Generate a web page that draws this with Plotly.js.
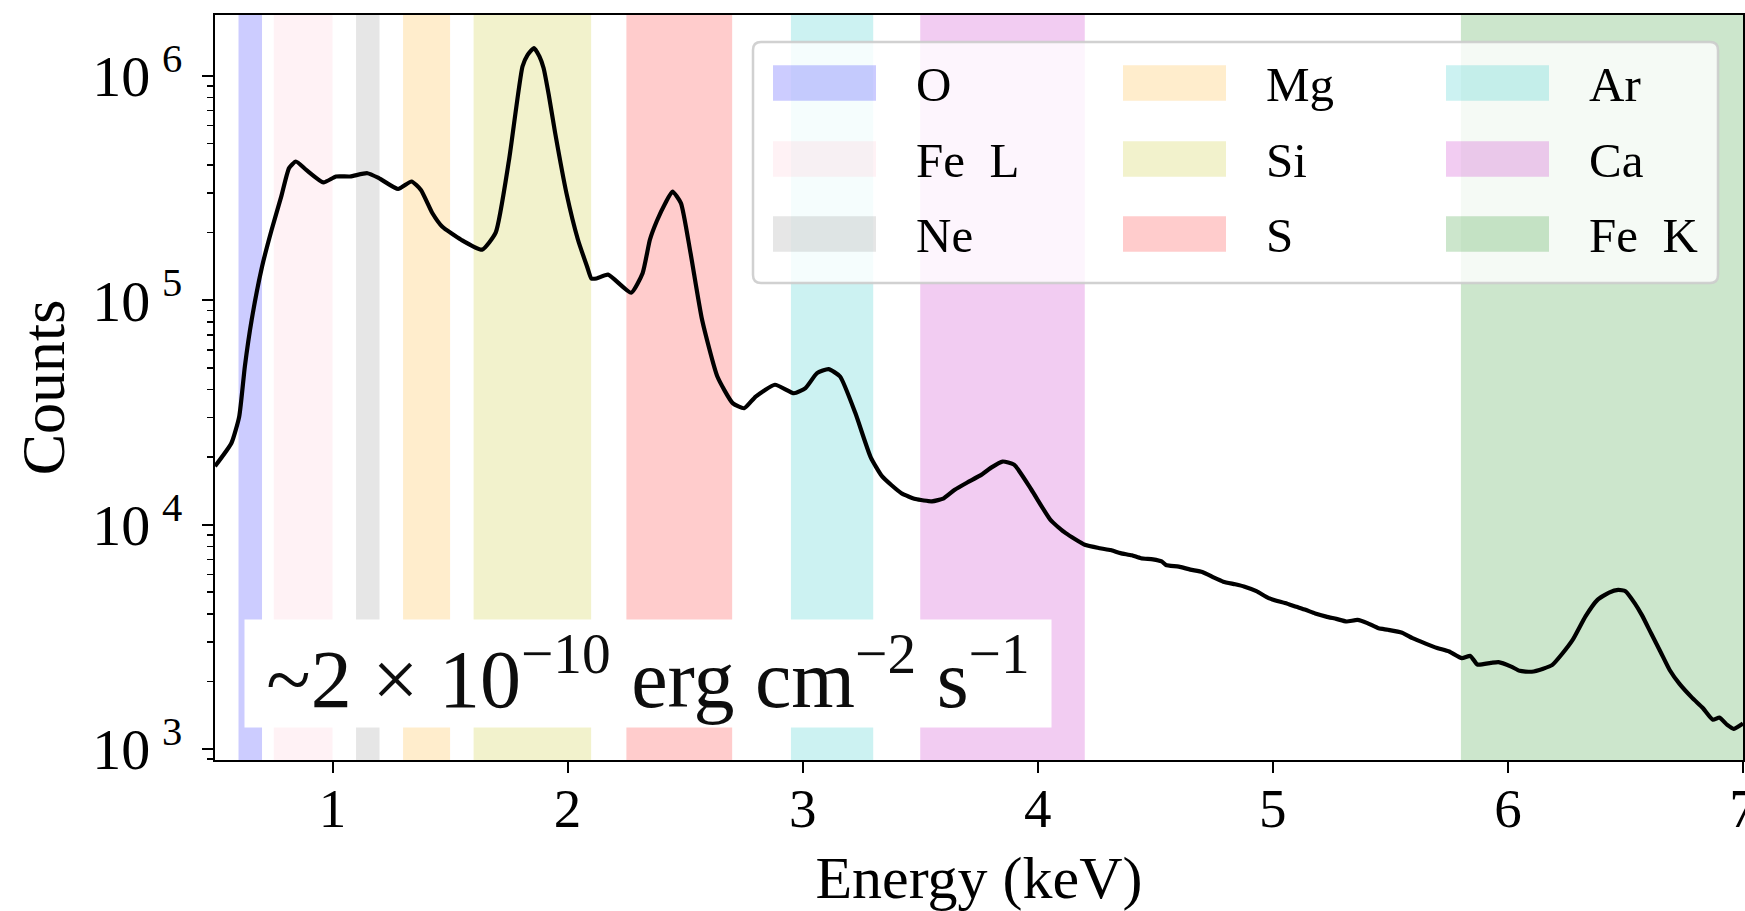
<!DOCTYPE html>
<html>
<head>
<meta charset="utf-8">
<script src="https://cdn.plot.ly/plotly-3.0.1.min.js"></script>
<style>
html, body { margin: 0; padding: 0; background: #ffffff; }
#chart { width: 1745px; height: 911px; }
</style>
</head>
<body>
<div id="chart"></div>
<script>
// ---------------- DATA ----------------
const energy = [
  0.50, 0.57, 0.603, 0.627, 0.656, 0.70, 0.741, 0.782, 0.815, 0.844,
  0.888, 0.961, 1.015, 1.075, 1.148, 1.197, 1.279, 1.336, 1.376, 1.425,
  1.466, 1.547, 1.636, 1.694, 1.751, 1.808, 1.83, 1.857, 1.88, 1.898,
  1.92, 1.947, 1.995,
  2.044, 2.083, 2.101, 2.123, 2.172, 2.27, 2.319, 2.35, 2.38, 2.415,
  2.446, 2.482, 2.523, 2.572, 2.637, 2.702, 2.751, 2.80, 2.882, 2.963,
  3.012, 3.061, 3.11, 3.159, 3.224, 3.289, 3.338, 3.42, 3.48, 3.55,
  3.60, 3.647, 3.70, 3.761, 3.80, 3.85, 3.899, 3.973, 4.054, 4.119,
  4.20, 4.264, 4.31, 4.352, 4.40, 4.439, 4.49, 4.527, 4.545, 4.60,
  4.649, 4.70, 4.75, 4.789, 4.84, 4.877, 4.93, 4.982, 5.052, 5.10,
  5.139, 5.18, 5.227, 5.27, 5.314, 5.36, 5.402, 5.45, 5.489, 5.55,
  5.594, 5.65, 5.699, 5.75, 5.804, 5.84, 5.87, 5.927, 5.96, 6.014,
  6.05, 6.101, 6.15, 6.189, 6.23, 6.276, 6.33, 6.381, 6.43, 6.469,
  6.50, 6.539, 6.57, 6.609, 6.65, 6.688, 6.73, 6.784, 6.83, 6.872,
  6.90, 6.933, 6.96, 7.00
];
const counts = [
  18200, 23100, 30300, 50700, 81800, 141000, 206000, 290000, 388000, 415000,
  381000, 335000, 356000, 356000, 368000, 350000, 313000, 338000, 310000, 244000,
  213000, 186000, 168000, 200000, 423000, 1100000, 1240000, 1330000, 1220000, 1080000,
  820000, 556000, 300000,
  186000, 141000, 125000, 125000, 130000, 108000, 132000, 186000, 226000, 270000,
  305000, 271000, 162000, 81800, 45700, 34800, 33000, 37200, 42000, 38500,
  40600, 47300, 49300, 45700, 31400, 20000, 16400, 13800, 13000, 12700,
  13100, 14300, 15400, 16700, 17900, 19100, 18500, 14300, 10500, 9160,
  8130, 7850, 7700, 7460, 7300, 7080, 7000, 6850, 6610, 6500,
  6300, 6150, 5800, 5570, 5420, 5300, 5050, 4700, 4470, 4300,
  4170, 4020, 3890, 3800, 3700, 3760, 3640, 3450, 3400, 3300,
  3120, 2950, 2820, 2720, 2540, 2600, 2380, 2420, 2440, 2330,
  2230, 2210, 2280, 2370, 2650, 3070, 3900, 4620, 4980, 5120,
  5050, 4470, 3950, 3280, 2700, 2250, 1950, 1690, 1520, 1350,
  1380, 1280, 1230, 1300
];

const bandNames  = ['O', 'Fe\u00a0\u00a0L', 'Ne', 'Mg', 'Si', 'S', 'Ar', 'Ca', 'Fe\u00a0\u00a0K'];
const bandStart  = [0.60, 0.75, 1.10, 1.30, 1.60, 2.25, 2.95, 3.50, 5.80];
const bandEnd    = [0.70, 1.00, 1.20, 1.50, 2.10, 2.70, 3.30, 4.20, 7.00];
const bandColors = [
  'rgba(0,0,255,0.2)', 'rgba(255,192,203,0.2)', 'rgba(128,128,128,0.2)',
  'rgba(255,165,0,0.2)', 'rgba(191,191,0,0.2)', 'rgba(255,0,0,0.2)',
  'rgba(0,191,191,0.2)', 'rgba(191,0,191,0.2)', 'rgba(0,128,0,0.2)'
];

const xTickVals = [1, 2, 3, 4, 5, 6, 7];
const xTickText = ['1', '2', '3', '4', '5', '6', '7'];
const yTickVals = [1e3, 1e4, 1e5, 1e6];
const yTickText = ['10\u2009<sup>3</sup>', '10\u2009<sup>4</sup>', '10\u2009<sup>5</sup>', '10\u2009<sup>6</sup>'];

const xTitle = 'Energy (keV)';
const yTitle = 'Counts';
const fluxText = '~2 \u00d7 10<sup>\u221210</sup> erg cm<sup>\u22122</sup> s<sup>\u22121</sup>';

// ---------------- LAYOUT GEOMETRY ----------------
const W = 1745, H = 911;
const M = { l: 215, r: 2, t: 15, b: 151 };
const PW = W - M.l - M.r, PH = H - M.t - M.b;
const px2x = px => (px - M.l) / PW;          // page px -> paper x
const py2y = py => (H - M.b - py) / PH;      // page px -> paper y

const FONT = 'Liberation Serif, Times New Roman, serif';

// band shapes
const shapes = [];
for (let i = 0; i < bandNames.length; i++) {
  shapes.push({
    type: 'rect', xref: 'x', yref: 'paper',
    x0: bandStart[i], x1: bandEnd[i], y0: 0, y1: 1,
    fillcolor: bandColors[i], line: { width: 0 }, layer: 'below'
  });
}

// custom legend (matplotlib-style, 3 columns)
const leg = { left: 753, top: 42, right: 1718, bottom: 283, r: 8 };
const hw = (leg.right - leg.left) / 2, hh = (leg.bottom - leg.top) / 2, rr = leg.r;
shapes.push({
  type: 'path', xref: 'paper', yref: 'paper',
  xsizemode: 'pixel', ysizemode: 'pixel',
  xanchor: px2x((leg.left + leg.right) / 2), yanchor: py2y((leg.top + leg.bottom) / 2),
  path: `M${-hw + rr},${-hh} L${hw - rr},${-hh} Q${hw},${-hh} ${hw},${-hh + rr} L${hw},${hh - rr} Q${hw},${hh} ${hw - rr},${hh} L${-hw + rr},${hh} Q${-hw},${hh} ${-hw},${hh - rr} L${-hw},${-hh + rr} Q${-hw},${-hh} ${-hw + rr},${-hh} Z`,
  fillcolor: 'rgba(255,255,255,0.8)', line: { color: 'rgba(204,204,204,0.9)', width: 2.5 }, layer: 'above'
});
const legCols = [ { sx: 773, tx: 914 }, { sx: 1123, tx: 1264 }, { sx: 1446, tx: 1587 } ];
const legRows = [83, 159, 234];
const swW = 103, swH = 35.7;
const annotations = [];
for (let i = 0; i < bandNames.length; i++) {
  const c = legCols[Math.floor(i / 3)], r = legRows[i % 3];
  shapes.push({
    type: 'rect', xref: 'paper', yref: 'paper',
    x0: px2x(c.sx), x1: px2x(c.sx + swW), y0: py2y(r + swH / 2), y1: py2y(r - swH / 2),
    fillcolor: bandColors[i], line: { width: 0 }, layer: 'above'
  });
  annotations.push({
    xref: 'paper', yref: 'paper', x: px2x(c.tx), y: py2y(r + 1.5),
    xanchor: 'left', yanchor: 'middle', showarrow: false,
    text: bandNames[i], font: { family: FONT, size: 49, color: '#000' }
  });
}

// flux label box
const fb = { left: 245, right: 1051, top: 620, bottom: 727 };
annotations.push({
  xref: 'paper', yref: 'paper',
  x: px2x((fb.left + fb.right) / 2), y: py2y((fb.top + fb.bottom) / 2),
  xanchor: 'center', yanchor: 'middle', showarrow: false,
  width: fb.right - fb.left - 4, height: fb.bottom - fb.top - 4, borderpad: 2,
  bgcolor: '#ffffff', align: 'center', valign: 'middle',
  text: fluxText, font: { family: FONT, size: 82, color: '#0d0d0d' }
});

const trace = {
  type: 'scatter', mode: 'lines', x: energy, y: counts,
  line: { color: '#000000', width: 4.2, shape: 'spline', smoothing: 0.5 },
  showlegend: false, hoverinfo: 'skip'
};

const layout = {
  width: W, height: H,
  margin: M,
  paper_bgcolor: '#ffffff', plot_bgcolor: '#ffffff',
  showlegend: false,
  font: { family: FONT, color: '#000000', size: 54 },
  xaxis: {
    range: [0.5, 7.0], tickmode: 'array', tickvals: xTickVals, ticktext: xTickText,
    ticks: 'outside', ticklen: 11, tickwidth: 2, tickcolor: '#000',
    showline: true, linecolor: '#000', linewidth: 2.2, mirror: true,
    showgrid: false, zeroline: false,
    tickfont: { family: FONT, size: 55, color: '#000' },
    ticklabelstandoff: -12, ticklabeloverflow: 'allow',
    title: { text: xTitle, font: { family: FONT, size: 60, color: '#000' }, standoff: 26 }
  },
  yaxis: {
    type: 'log', range: [2.951, 6.271], tickmode: 'array', tickvals: yTickVals, ticktext: yTickText,
    ticks: 'outside', ticklen: 11, tickwidth: 2, tickcolor: '#000',
    minor: { ticks: 'outside', ticklen: 6, tickwidth: 1.6, tickcolor: '#000', dtick: 'D1' },
    showline: true, linecolor: '#000', linewidth: 2.2, mirror: true,
    showgrid: false, zeroline: false,
    tickfont: { family: FONT, size: 58, color: '#000' },
    ticklabelstandoff: 8,
    title: { text: yTitle, font: { family: FONT, size: 62, color: '#000' }, standoff: 8 }
  },
  shapes: shapes,
  annotations: annotations
};

Plotly.newPlot('chart', [trace], layout, { staticPlot: true, displayModeBar: false });
</script>
</body>
</html>
